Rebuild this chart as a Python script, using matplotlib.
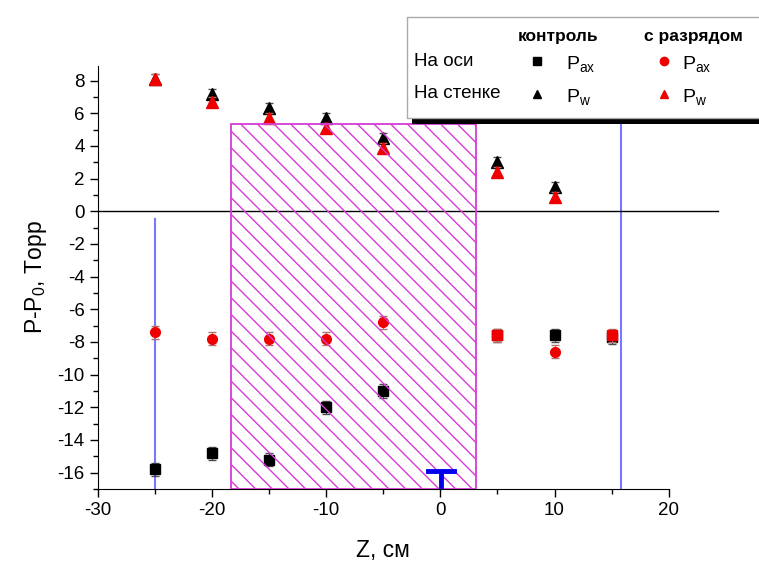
import numpy as np
import matplotlib
matplotlib.use('Agg')
import matplotlib.pyplot as plt
from matplotlib.patches import Rectangle

plt.rcParams['font.family'] = ['Liberation Sans', 'DejaVu Sans']
plt.rcParams['mathtext.fontset'] = 'custom'
plt.rcParams['mathtext.rm'] = 'Liberation Sans'
plt.rcParams['axes.unicode_minus'] = False
plt.rcParams['hatch.linewidth'] = 1.0

# данные: z, см
z = [-25, -20, -15, -10, -5, 5, 10, 15]
kontrol_ax = [-15.8, -14.8, -15.2, -12.0, -11.0, -7.6, -7.6, -7.7]
kontrol_w = [8.1, 7.2, 6.3, 5.7, 4.5, 3.0, 1.5]
razryad_ax = [-7.4, -7.8, -7.8, -7.8, -6.8, -7.6, -8.6, -7.6]
razryad_ax_marker = ['o', 'o', 'o', 'o', 'o', 's', 'o', 's']
razryad_w = [8.1, 6.7, 5.7, 5.1, 3.9, 2.4, 0.9]
z_w = [-25, -20, -15, -10, -5, 5, 10]
err_ax = [0.4, 0.4, 0.4, 0.4, 0.4, 0.4, 0.4, 0.4]
err_w = [0.3, 0.3, 0.3, 0.3, 0.3, 0.3, 0.3]

# зона разряда и границы
zona = (-18.3, 3.15, 5.35)
linii = [(-25, -0.45), (15.8, 6.9)]
T_z, T_top, T_half = 0.05, -15.9, 1.15

fig = plt.figure(figsize=(7.59, 5.65), dpi=100)
ax = fig.add_axes([0.129, 0.1345, 0.752, 0.749])

ax.errorbar(z, kontrol_ax, yerr=err_ax, fmt='s', color='k', ms=6.5,
            ecolor='0.3', elinewidth=0.8, capsize=3, zorder=4)
ax.errorbar(z_w, kontrol_w, yerr=err_w, fmt='^', color='k', ms=8,
            ecolor='0.3', elinewidth=0.8, capsize=3, zorder=4)
for zi, yi, ei, m in zip(z, razryad_ax, err_ax, razryad_ax_marker):
    ax.errorbar([zi], [yi], yerr=[ei], fmt=m, color='#ee0000', ms=7 if m == 'o' else 6.5,
                ecolor='#b07070', elinewidth=0.8, capsize=3, zorder=5)
ax.errorbar(z_w, razryad_w, yerr=err_w, fmt='^', color='#ee0000', ms=8,
            ecolor='#b07070', elinewidth=0.8, capsize=3, zorder=5)

ax.set_xlim(-30, 20)
ax.set_ylim(-17.0, 8.9)

# штриховка
ax.add_patch(Rectangle((zona[0], -17.0), zona[1] - zona[0], zona[2] + 17.0,
                       facecolor='none', edgecolor='#d63cd6', hatch='\\\\',
                       linewidth=1.3, zorder=6))

# нулевая линия
ax.plot([-30, 24.3], [0, 0], color='k', lw=1, clip_on=False, zorder=3)

for xl, ytop in linii:
    ax.plot([xl, xl], [ytop, -17.0], color='#7777ff', lw=1.5, zorder=2)

ax.plot([T_z, T_z], [T_top, -17.0], color='#0000ee', lw=3.5, zorder=7, solid_capstyle='butt')
ax.plot([T_z - T_half, T_z + T_half], [T_top, T_top], color='#0000ee', lw=3.5, zorder=7)

ax.spines['top'].set_visible(False)
ax.spines['right'].set_visible(False)
ax.set_xticks([-30, -20, -10, 0, 10, 20])
ax.set_xticks(np.arange(-25, 20, 10), minor=True)
ax.set_yticks(np.arange(-16, 9, 2))
ax.set_yticks(np.arange(-17, 9, 1), minor=True)
ax.tick_params(which='major', direction='out', length=6, width=1, labelsize=13.5)
ax.tick_params(which='minor', direction='out', length=3.5, width=1)

ax.set_xlabel('Z, см', fontsize=16.5, labelpad=14)
ax.set_ylabel('P-P$\\mathregular{_0}$, Торр', fontsize=16.5, labelpad=6)

# легенда
W, H = 759.0, 565.0
fig.patches.append(Rectangle((412 / W, 1 - 124 / H), 0.5, 6 / H, transform=fig.transFigure,
                             facecolor='k', edgecolor='none', zorder=9))
fig.patches.append(Rectangle((407 / W, 1 - 118 / H), 0.5, 101 / H, transform=fig.transFigure,
                             facecolor='white', edgecolor='#aaaaaa', lw=1, zorder=10))

def ft(x, y, s, **kw):
    fig.text(x / W, 1 - y / H, s, zorder=11, va='center', **kw)

ft(558, 36, 'контроль', ha='center', fontsize=12.5, fontweight='bold')
ft(693, 36, 'с разрядом', ha='center', fontsize=12.5, fontweight='bold')
ft(414, 61, 'На оси', ha='left', fontsize=13.5)
ft(414, 94, 'На стенке', ha='left', fontsize=13.5)
ft(566, 64, 'P$\\mathregular{_{ax}}$', ha='left', fontsize=14)
ft(566, 97, 'P$\\mathregular{_{w}}$', ha='left', fontsize=14)
ft(682, 64, 'P$\\mathregular{_{ax}}$', ha='left', fontsize=14)
ft(682, 97, 'P$\\mathregular{_{w}}$', ha='left', fontsize=14)
for mx, my, m, c in [(537, 61, 's', 'k'), (537, 94, '^', 'k'),
                     (664, 61, 'o', '#ee0000'), (664, 94, '^', '#ee0000')]:
    fig.add_artist(plt.Line2D([mx / W], [1 - my / H], marker=m, color=c, ms=6,
                              transform=fig.transFigure, zorder=11))

fig.savefig('out.png', dpi=100)
